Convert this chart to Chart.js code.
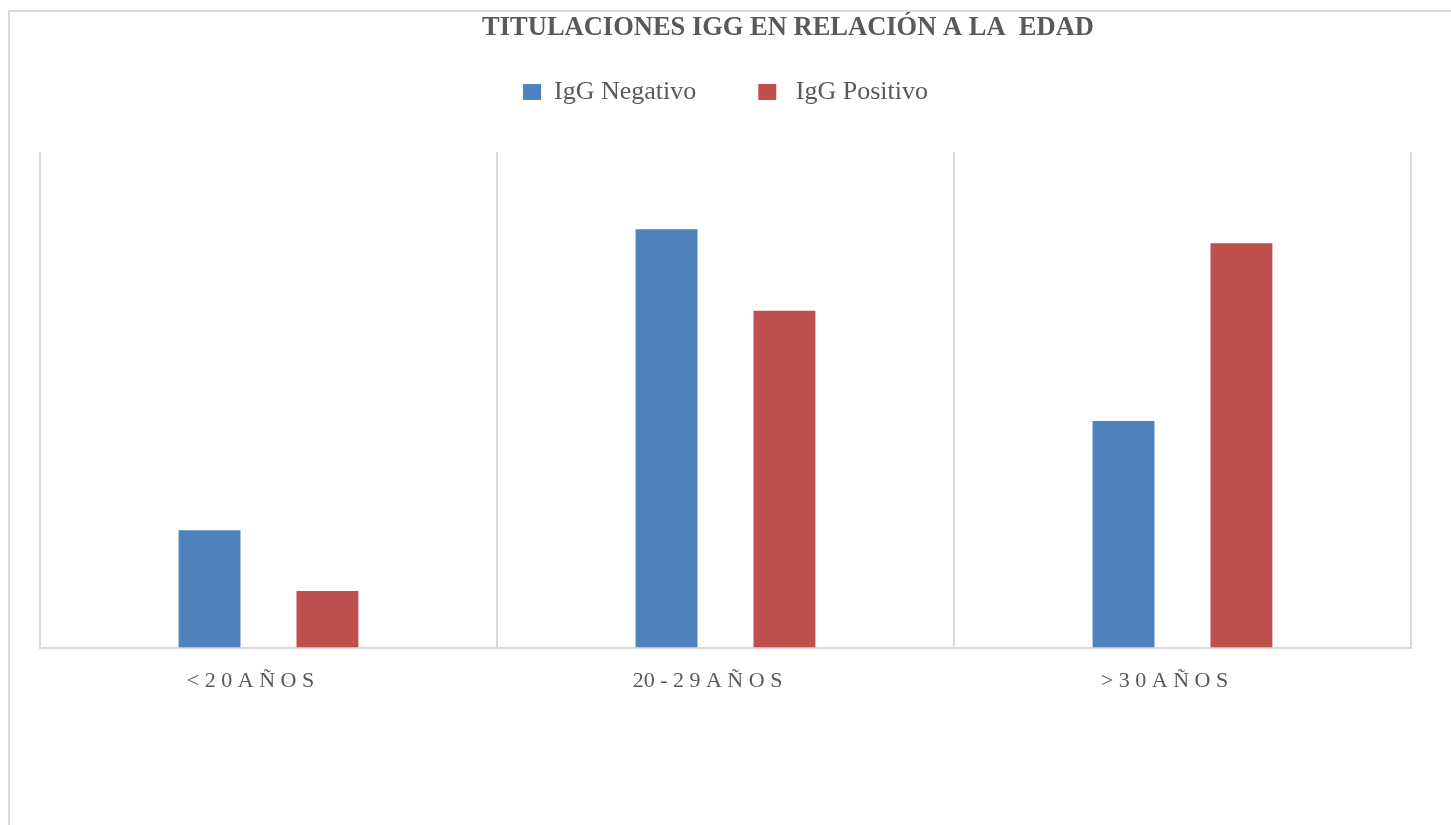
<!DOCTYPE html>
<html lang="es">
<head>
<meta charset="utf-8">
<title>Titulaciones IgG en relación a la edad</title>
<script src="https://cdn.jsdelivr.net/npm/chart.js@4/dist/chart.umd.min.js"></script>
<style>
  html, body { margin: 0; padding: 0; background: #ffffff; }
  #wrap { position: relative; width: 1451px; height: 825px; overflow: hidden; }
  #frame {
    position: absolute; left: 8px; top: 10px; width: 1500px; height: 900px;
    border-left: 2px solid #d9d9d9; border-top: 2px solid #d9d9d9;
    box-sizing: border-box; pointer-events: none;
  }
  canvas { position: absolute; left: 0; top: 0; }
</style>
</head>
<body>
<div id="wrap">
  <canvas id="chart" width="1451" height="825"></canvas>
  <div id="frame"></div>
</div>
<script>
// Chart text
const chartTitle = 'TITULACIONES IGG EN RELACIÓN A LA  EDAD';
const ageGroups = ['< 2 0 A Ñ O S', '20 - 2 9 A Ñ O S', '> 3 0 A Ñ O S'];
const seriesNames = ['IgG Negativo', ' IgG Positivo'];

// Values per age group
const igGNegativo = [21, 74.8, 40.5];
const igGPositivo = [10.1, 60.2, 72.3];

// Value axis range (axis itself is hidden)
const valueMin = 0;
const valueMax = 88.6;

const blue = '#4F81BD';
const red = '#C0504D';
const textGray = '#595959';
const gridGray = '#d9d9d9';
const serif = '"Liberation Serif", "Times New Roman", serif';

// Title drawn slightly right of center
const titlePlugin = {
  id: 'offsetTitle',
  afterDraw(chart) {
    const ctx = chart.ctx;
    ctx.save();
    ctx.font = 'bold 26.5px ' + serif;
    ctx.fillStyle = textGray;
    ctx.textAlign = 'center';
    ctx.textBaseline = 'alphabetic';
    ctx.fillText(chartTitle, 788, 35);
    ctx.restore();
  }
};

// Extra room between the legend row and the plot area
const legendGapPlugin = {
  id: 'legendGap',
  beforeInit(chart) {
    const legend = chart.legend;
    if (!legend) return;
    const originalFit = legend.fit;
    legend.fit = function () {
      originalFit.call(this);
      this.height += 37;
    };
  }
};

new Chart(document.getElementById('chart'), {
  type: 'bar',
  data: {
    labels: ageGroups,
    datasets: [
      { label: seriesNames[0], data: igGNegativo, backgroundColor: blue,
        categoryPercentage: 0.516, barPercentage: 0.525 },
      { label: seriesNames[1], data: igGPositivo, backgroundColor: red,
        categoryPercentage: 0.516, barPercentage: 0.525 }
    ]
  },
  options: {
    responsive: false,
    animation: false,
    events: [],
    layout: { padding: { top: 17, left: 40, right: 40, bottom: 111 } },
    plugins: {
      title: { display: false },
      tooltip: { enabled: false },
      legend: {
        position: 'top',
        labels: {
          boxWidth: 18,
          boxHeight: 16,
          padding: 62,
          color: textGray,
          font: { family: serif, size: 26 }
        }
      }
    },
    scales: {
      x: {
        grid: { offset: true, color: gridGray, lineWidth: 2, drawTicks: false },
        border: { display: true, color: gridGray, width: 2 },
        ticks: {
          color: textGray,
          padding: 20,
          labelOffset: -18,
          font: { family: serif, size: 22 }
        }
      },
      y: {
        display: false,
        min: valueMin,
        max: valueMax
      }
    }
  },
  plugins: [titlePlugin, legendGapPlugin]
});
</script>
</body>
</html>
